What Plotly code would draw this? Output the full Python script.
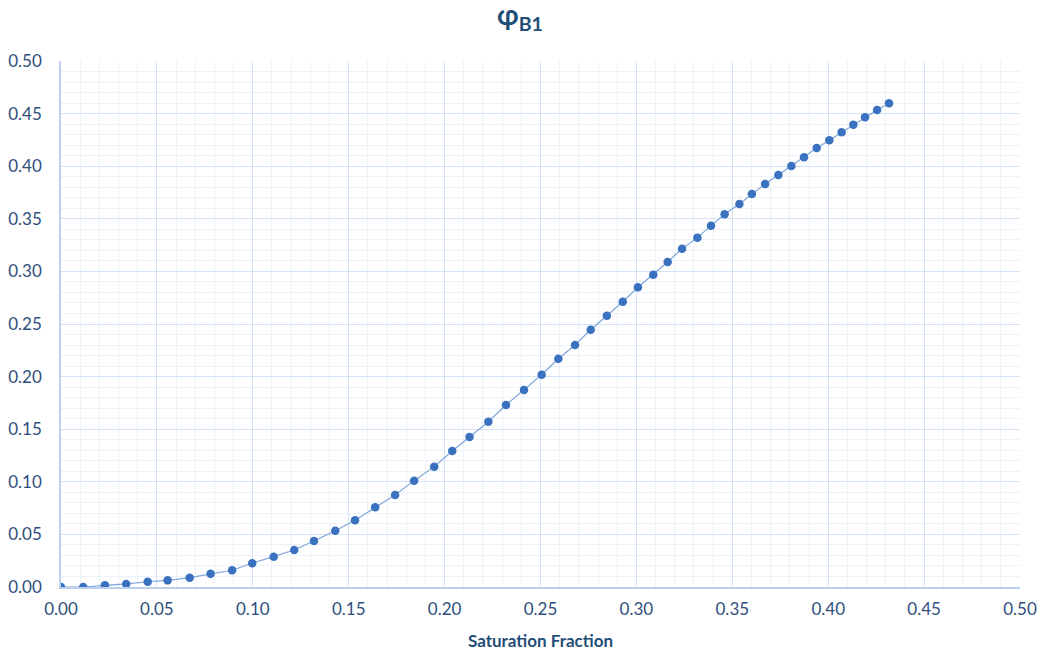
import plotly.graph_objects as go

saturation_fraction = [0.0, 0.0116, 0.0229, 0.034, 0.0452, 0.0556, 0.0671, 0.078, 0.0892, 0.0997,
                       0.1109, 0.1216, 0.1319, 0.1430, 0.1533, 0.1638, 0.1742, 0.1841, 0.1946, 0.2040,
                       0.2130, 0.2228, 0.2320, 0.2414, 0.2506, 0.2593, 0.2680, 0.2762, 0.2846, 0.2929,
                       0.3008, 0.3088, 0.3163, 0.3238, 0.3318, 0.3389, 0.3460, 0.3537, 0.3602, 0.3671,
                       0.3740, 0.3808, 0.3874, 0.3940, 0.4006, 0.4070, 0.4131, 0.4192, 0.4255, 0.4317]
phi_b1 = [0.0, 0.0, 0.0016, 0.0029, 0.0050, 0.0063, 0.0089, 0.0126, 0.0159, 0.0226,
          0.0288, 0.0352, 0.0437, 0.0535, 0.0634, 0.0758, 0.0875, 0.1011, 0.1144, 0.1293,
          0.1426, 0.1571, 0.1730, 0.1873, 0.2018, 0.2170, 0.2300, 0.2446, 0.2579, 0.2712,
          0.2849, 0.2969, 0.3090, 0.3216, 0.3321, 0.3435, 0.3543, 0.3641, 0.3736, 0.3831,
          0.3916, 0.4002, 0.4084, 0.4173, 0.4246, 0.4322, 0.4395, 0.4465, 0.4534, 0.4598]

title_text = "φ<sub>B1</sub>"
x_title = "Saturation Fraction"

fig = go.Figure()
fig.add_trace(go.Scatter(
    x=saturation_fraction, y=phi_b1, mode="lines+markers",
    line=dict(color="#7FA6DA", width=1.2),
    marker=dict(color="#3A72C0", size=8.5),
    showlegend=False,
))

font_family = "Lato, Open Sans, sans-serif"
tick_color = "#2F4E7C"
major_grid = "#D3E2F4"
minor_grid = "#EDF2FA"

fig.update_layout(
    width=1040, height=653,
    margin=dict(l=61, r=20, t=61, b=66, autoexpand=False),
    paper_bgcolor="white", plot_bgcolor="white",
    title=dict(text="<b>" + title_text + "</b>", x=0.5, xanchor="center", y=0.976, yanchor="middle",
               font=dict(family=font_family, size=28, color="#1F4E79")),
    font=dict(family=font_family, color=tick_color),
)
fig.update_xaxes(
    range=[0, 0.5], dtick=0.05, tickformat=".2f", automargin=False,
    showgrid=True, gridcolor=major_grid, gridwidth=1,
    minor=dict(dtick=0.01, showgrid=True, gridcolor=minor_grid, gridwidth=1),
    showline=True, linecolor="#BCD0EC", linewidth=1.5,
    zeroline=False, ticks="outside", ticklen=6, tickcolor="rgba(0,0,0,0)",
    tickfont=dict(family=font_family, size=17, color=tick_color),
    title=dict(text="<b>" + x_title + "</b>", standoff=17,
               font=dict(family=font_family, size=17, color="#1F4E79")),
)
fig.update_yaxes(
    range=[0, 0.5], dtick=0.05, tickformat=".2f", automargin=False,
    showgrid=True, gridcolor=major_grid, gridwidth=1,
    minor=dict(dtick=0.01, showgrid=True, gridcolor=minor_grid, gridwidth=1),
    showline=True, linecolor="#BCD0EC", linewidth=1.5,
    zeroline=False, ticks="outside", ticklen=14, tickcolor="rgba(0,0,0,0)",
    tickfont=dict(family=font_family, size=17, color=tick_color),
)

fig.write_html(
    "out.html",
    config={"displayModeBar": False},
    post_script="document.body.style.margin='0';document.body.style.overflow='hidden';",
)
